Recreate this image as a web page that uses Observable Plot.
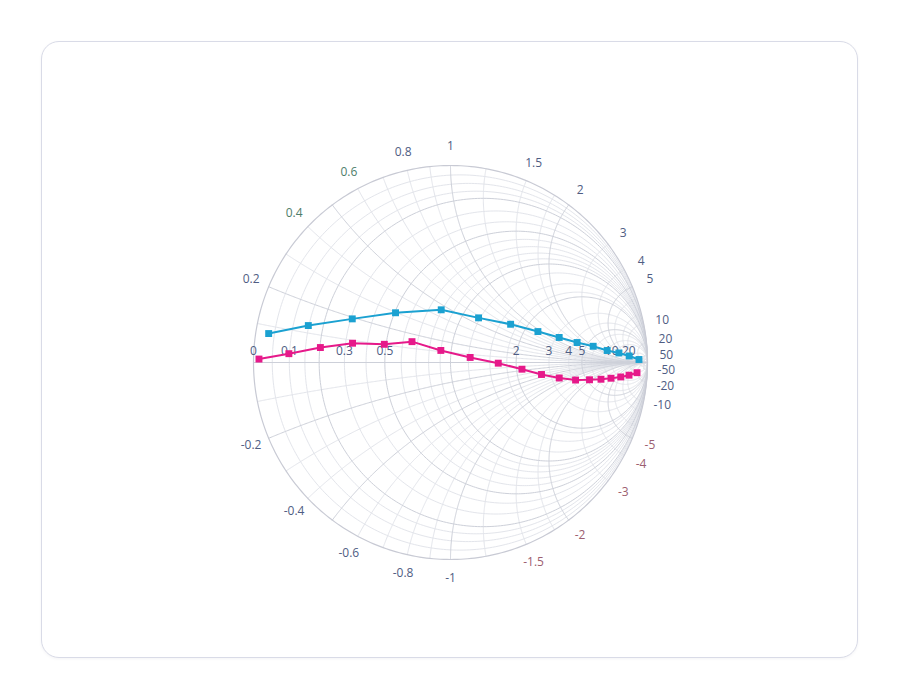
<!DOCTYPE html>
<html>
<head>
<meta charset="utf-8">
<script src="https://cdn.jsdelivr.net/npm/d3@7"></script>
<script src="https://cdn.jsdelivr.net/npm/@observablehq/plot@0.6"></script>
<style>
  html, body { margin: 0; padding: 0; background: #ffffff; }
  #card {
    position: absolute; left: 41px; top: 41px; width: 815px; height: 615px;
    border: 1.5px solid #d9dbe7; border-radius: 18px; background: #fff;
    box-shadow: 0 1px 3px rgba(40,40,80,0.05);
  }
  #chart { position: absolute; left: 0; top: 0; }
</style>
</head>
<body>
<div id="card"></div>
<div id="chart"></div>
<script>
// ---- data (impedance, normalised) ----
const trace1Real = [0.034, 0.148, 0.306, 0.505, 0.793, 1.18, 1.67, 2.33, 3.13, 4.18, 5.66, 7.98, 11.4, 18.1, 40.2];
const trace1Imag = [0.079, 0.125, 0.193, 0.297, 0.458, 0.576, 0.746, 0.94, 1.17, 1.47, 1.99, 2.67, 4.14, 6.79, 14.5];
const trace2Real = [0.014, 0.098, 0.202, 0.33, 0.49, 0.66, 0.90, 1.22, 1.64, 2.13, 2.67, 3.33, 4.17, 5.24, 6.5, 8.1, 10.4, 13.5, 18.3];
const trace2Imag = [0.009, 0.027, 0.055, 0.087, 0.103, 0.147, 0.111, 0.063, -0.012, -0.167, -0.415, -0.76, -1.26, -1.86, -2.7, -3.92, -6.16, -9.94, -18.8];

// ---- axis ticks ----
const realTickVals = [0, 0.1, 0.3, 0.5, 2, 3, 4, 5, 10, 20];
const imagTickVals = [0.2, 0.4, 0.6, 0.8, 1, 1.5, 2, 3, 4, 5, 10, 20, 50,
                      -0.2, -0.4, -0.6, -0.8, -1, -1.5, -2, -3, -4, -5, -10, -20, -50];
const greenTicks = [0.4, 0.6];
const redTicks = [-1.5, -2, -3, -4, -5];

// ---- grid values ----
const majorGrid = [0.2, 0.5, 1, 2, 5];
const minorRealGrid = [0.05, 0.1, 0.15, 0.3, 0.4, 0.6, 0.7, 0.8, 0.9, 1.2, 1.5, 1.8, 3, 4, 6, 8, 10, 20, 50];
const minorImagGrid = [0.1, 0.3, 0.4, 0.6, 0.7, 0.8, 0.9, 1.2, 1.5, 1.8, 3, 4, 6, 8, 10, 20, 50];

// ---- colours ----
const colBlue = "#1ba1d1";
const colPink = "#e6198a";
const colLabel = "#4f5d83";
const colGreen = "#4e7d6a";
const colRed = "#9c6070";

// ---- geometry (layout only) ----
const W = 900, H = 700, CX = 450, CY = 362, R = 197;

function gamma(r, x) {
  const a = r - 1, b = x, c = r + 1, d = x;
  const den = c * c + d * d;
  return [(a * c + b * d) / den, (b * c - a * d) / den];
}

function resistanceCircle(r, id) {
  const cx = r / (r + 1), rad = 1 / (r + 1), pts = [];
  for (let i = 0; i <= 360; i++) {
    const t = (i / 360) * 2 * Math.PI;
    pts.push({u: cx + rad * Math.cos(t), v: rad * Math.sin(t), id});
  }
  return pts;
}

function reactanceArc(x, id) {
  const ax = Math.abs(x), rad = 1 / ax, pts = [];
  let angB = Math.atan2((ax * ax - 1) / ax, -2);
  if (angB > -Math.PI / 2) angB -= 2 * Math.PI;
  const a0 = -Math.PI / 2;
  const n = 300;
  for (let i = 0; i <= n; i++) {
    const t = a0 + (angB - a0) * (i / n);
    const u = 1 + rad * Math.cos(t);
    const v = 1 / ax + rad * Math.sin(t);
    pts.push({u, v: x > 0 ? v : -v, id});
  }
  return pts;
}

function gridFor(rVals, xVals, tag) {
  let out = [];
  rVals.forEach((r, i) => out = out.concat(resistanceCircle(r, tag + "r" + i)));
  xVals.forEach((x, i) => {
    out = out.concat(reactanceArc(x, tag + "xp" + i));
    out = out.concat(reactanceArc(-x, tag + "xn" + i));
  });
  return out;
}

const minorLines = gridFor(minorRealGrid, minorImagGrid, "m");
const majorLines = gridFor(majorGrid, majorGrid, "M")
  .concat([{u: -1, v: 0, id: "axis"}, {u: 1, v: 0, id: "axis"}]);
const boundary = resistanceCircle(0, "b");

function toPoints(re, im, name) {
  return re.map((r, i) => {
    const g = gamma(r, im[i]);
    return {u: g[0], v: g[1], name};
  });
}
const pts1 = toPoints(trace1Real, trace1Imag, "trace 1");
const pts2 = toPoints(trace2Real, trace2Imag, "trace 2");

// small vertical nudges for the crowded labels near the right edge
const labelNudge = {"20": -2, "50": 1, "-50": -1, "-20": 2};
const labelOff = 216 / R;
const imagLabels = imagTickVals.map(x => {
  const g = gamma(0, x);
  const color = greenTicks.includes(x) ? colGreen : (redTicks.includes(x) ? colRed : colLabel);
  return {u: g[0] * labelOff, v: g[1] * labelOff, text: String(x), color, dy: labelNudge[String(x)] || 0};
});
const realLabels = realTickVals.map(r => {
  const g = gamma(r, 0);
  return {u: g[0], v: 0, text: String(r)};
});

const font = "'Open Sans', sans-serif";
const chart = Plot.plot({
  width: W,
  height: H,
  margin: 0,
  style: {background: "transparent", fontFamily: font},
  x: {domain: [-CX / R, (W - CX) / R], axis: null},
  y: {domain: [(CY - H) / R, CY / R], axis: null},
  marks: [
    Plot.line(minorLines, {x: "u", y: "v", z: "id", stroke: "#e3e5eb", strokeWidth: 1}),
    Plot.line(majorLines, {x: "u", y: "v", z: "id", stroke: "#cdd0d9", strokeWidth: 1}),
    Plot.line(boundary, {x: "u", y: "v", z: "id", stroke: "#c8cad4", strokeWidth: 1.2}),
    ...[-2, -1, 0, 1, 2].map(n =>
      Plot.text(imagLabels.filter(d => d.dy === n), {x: "u", y: "v", text: "text", dy: n, fill: "color", fontSize: 12, fontFamily: font})
    ),
    Plot.text(realLabels, {x: "u", y: "v", text: "text", dy: -11, fill: colLabel, fontSize: 12, fontFamily: font}),
    Plot.line(pts1, {x: "u", y: "v", stroke: colBlue, strokeWidth: 2}),
    Plot.line(pts2, {x: "u", y: "v", stroke: colPink, strokeWidth: 2}),
    Plot.dot(pts1, {x: "u", y: "v", symbol: "square", r: 3.9, fill: colBlue, stroke: "none"}),
    Plot.dot(pts2, {x: "u", y: "v", symbol: "square", r: 3.9, fill: colPink, stroke: "none"})
  ]
});
document.getElementById("chart").appendChild(chart);
</script>
</body>
</html>
